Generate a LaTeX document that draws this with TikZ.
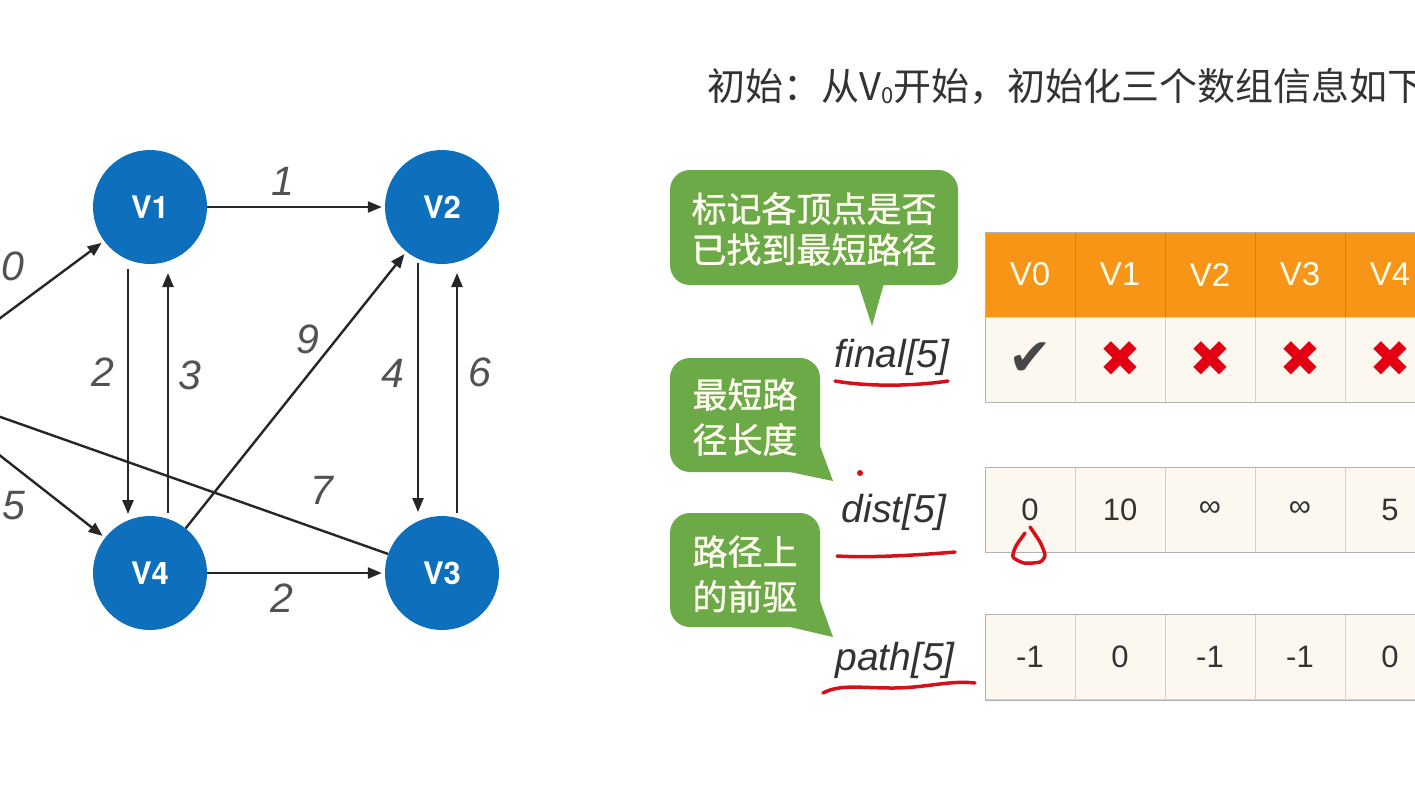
\documentclass[tikz,border=0pt]{standalone}
\usepackage{fontspec}
\setmainfont{Liberation Sans}
\setsansfont{TeX Gyre Heros}
\newfontfamily\cjk{Noto Sans CJK SC}
\newfontfamily\cjkb[FakeBold=1]{Noto Sans CJK SC}
\newfontfamily\symb{DejaVu Sans}
\usetikzlibrary{arrows.meta,calc}

\definecolor{vblue}{RGB}{14,112,188}
\definecolor{bubgreen}{RGB}{108,170,72}
\definecolor{hdorange}{RGB}{248,148,22}
\definecolor{cellbg}{RGB}{252,248,240}
\definecolor{penred}{RGB}{214,16,24}
\definecolor{xred}{RGB}{226,0,18}

\newcommand{\fsz}[1]{\fontsize{#1}{#1}\selectfont}

\begin{document}
\begin{tikzpicture}[x=1pt,y=-1pt,
  vtx/.style={circle, fill=vblue, minimum size=114pt, inner sep=0pt, text=white, font=\sffamily\bfseries\fsz{31}},
  edge/.style={line width=2.4pt, draw=black!85, -{Triangle[length=14pt,width=11pt]}, shorten >=3pt},
  wlab/.style={text=black!68, font=\itshape\fsz{41}},
  headcell/.style={minimum width=90pt, minimum height=85pt, inner sep=0pt, fill=hdorange, draw=hdorange!85!black, text=white!92!yellow, font=\fsz{33}},
  cell/.style={minimum width=90pt, minimum height=85pt, inner sep=0pt, fill=cellbg, draw=black!18, text=black!80, font=\fsz{31}},
  bubble/.style={fill=bubgreen, rounded corners=20pt},
  bubtxt/.style={text=white!94!yellow, align=center},
  arrlab/.style={text=black!80, font=\itshape\fsz{39}},
  pen/.style={draw=penred, line width=3.5pt, line cap=round, line join=round}]

  \useasboundingbox (0,0) rectangle (1415,796);
  \clip (0,0) rectangle (1415,796);
  \fill[white] (0,0) rectangle (1415,796);

  %%%%% graph %%%%%
  \node[vtx] (V0) at (-90,385) {};
  \node[vtx] (V1) at (150,207) {V1};
  \node[vtx] (V2) at (442,207) {V2};
  \node[vtx] (V3) at (442,573) {V3};
  \node[vtx] (V4) at (150,573) {V4};

  \draw[edge] (V0) -- (V1);
  \draw[edge] (V0) -- (V4);
  \draw[edge] (V3) -- (V0);
  \draw[edge] (V1) -- (V2);
  \draw[edge] (V4) -- (V3);
  \draw[edge] (V4) -- (V2);
  \draw[edge] ($(V1)+(-22,62)$) -- ($(V4)+(-22,-56)$);
  \draw[edge] ($(V4)+(18,-60)$) -- ($(V1)+(18,63)$);
  \draw[edge] ($(V2)+(-24,56)$) -- ($(V3)+(-24,-58)$);
  \draw[edge] ($(V3)+(15,-60)$) -- ($(V2)+(15,63)$);

  \node[wlab, anchor=east] (w01) at (28,266) {10};
  \node[wlab] (w04) at (14,506) {5};
  \node[wlab] (w12) at (283,181) {1};
  \node[wlab] (w14) at (103,372) {2};
  \node[wlab] (w41) at (190,375) {3};
  \node[wlab] (w42) at (308,339) {9};
  \node[wlab] (w23) at (393,373) {4};
  \node[wlab] (w32) at (480,372) {6};
  \node[wlab] (w30) at (322,490) {7};
  \node[wlab] (w43) at (282,598) {2};

  %%%%% title %%%%%
  \node[anchor=west, text=black!80, font=\cjk\fsz{38}] (title) at (704,86)
    {初始：从V\raisebox{-3pt}{\fsz{22}0}开始，初始化三个数组信息如下};

  %%%%% callouts %%%%%
  \fill[bubble] (670,170) rectangle (958,285);
  \fill[bubgreen] (858,283) -- (872,326) -- (884,283) -- cycle;
  \node[bubtxt, font=\cjkb\fontsize{35}{41}\selectfont] (tipA) at (814,229) {标记各顶点是否\\已找到最短路径};

  \fill[bubble] (670,358) rectangle (820,472);
  \fill[bubgreen] (790,472) -- (820,446) -- (833,481) -- cycle;
  \node[bubtxt, font=\cjkb\fontsize{35}{45}\selectfont] (tipB) at (745,417) {最短路\\径长度};

  \fill[bubble] (670,513) rectangle (820,627);
  \fill[bubgreen] (790,627) -- (820,601) -- (833,637) -- cycle;
  \node[bubtxt, font=\cjkb\fontsize{35}{45}\selectfont] (tipC) at (745,574) {路径上\\的前驱};

  \node[arrlab] (lfinal) at (892,357) {final[5]};
  \node[arrlab] (ldist) at (894,512) {dist[5]};
  \node[arrlab] (lpath) at (895,660) {path[5]};

  %%%%% table %%%%%
  \foreach \i in {0,...,4}
    \node[headcell] (h\i) at ({1030+90*\i},274.5) {V\i};

  \node[cell, text=black!72, font=\symb\fsz{52}] (f0) at (1030,359.5) {✔};
  \foreach \i in {1,...,4}
    \node[cell, text=xred, font=\symb\fsz{50}] (f\i) at ({1030+90*\i},359.5) {✖};

  \foreach \v [count=\i from 0] in {0,10,∞,∞,5}
    \node[cell] (d\i) at ({1030+90*\i},509.5) {\v};

  \foreach \v [count=\i from 0] in {-1,0,-1,-1,0}
    \node[cell] (p\i) at ({1030+90*\i},657) {\v};

  \draw[black!30] (h0.north west) rectangle (f4.south east);
  \draw[black!30] (d0.north west) rectangle (d4.south east);
  \draw[black!30] (p0.north west) rectangle (p4.south east);

  %%%%% red pen %%%%%
  \draw[pen] (835,381) .. controls (870,387) and (915,386) .. (948,381);
  \draw[pen] (837,556) .. controls (870,558) and (920,555) .. (955,552);
  \draw[pen] (823,693) .. controls (840,684) and (860,688) .. (893,688) .. controls (925,688) and (950,680) .. (975,683);
  \fill[penred] (860,473) circle (3);
  \draw[pen] plot[smooth, tension=0.4] coordinates {(1025,533) (1016,546) (1013,557) (1024,563) (1040,562) (1045,555) (1040,542) (1030,527)};

\end{tikzpicture}
\end{document}
